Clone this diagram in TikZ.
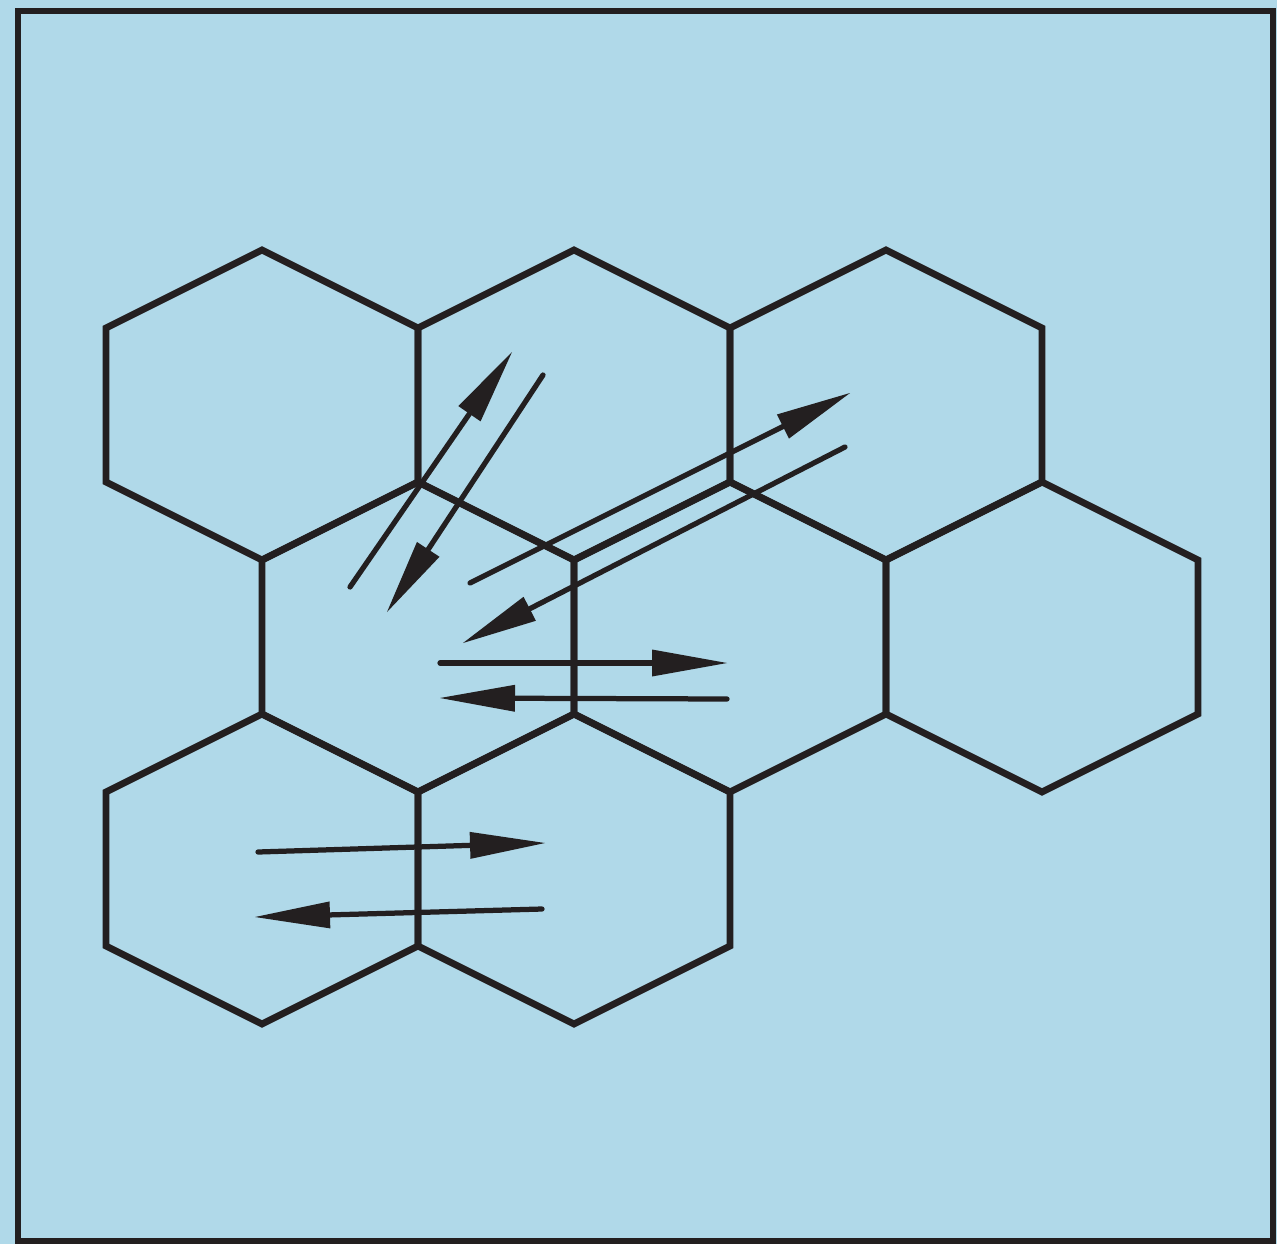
\documentclass[tikz,border=0pt]{standalone}
\usetikzlibrary{arrows.meta}
\definecolor{bgblue}{RGB}{176,217,233}
\definecolor{ink}{RGB}{35,31,32}

\begin{document}
\begin{tikzpicture}[x=0.02cm,y=-0.02cm,
    hexline/.style={draw=ink, line width=0.135cm},
    flow/.style={draw=ink, line width=0.105cm, line cap=round,
        -{Triangle[length=1.5cm,width=0.54cm,line width=0pt]}}]

    % 1. background and frame
    \fill[bgblue] (0,0) rectangle (1277,1244);
    \useasboundingbox (0,0) rectangle (1277,1244);
    \draw[ink, line width=0.12cm] (18,11) rectangle (1273,1241);

    % 2. hex cells (centres)
    \foreach \cx/\cy in {262/405,574/405,886/405,418/637,730/637,1042/637,262/869,574/869} {
        \draw[hexline] (\cx,\cy) ++(0,-155) -- ++(156,78) -- ++(0,154)
            -- ++(-156,78) -- ++(-156,-78) -- ++(0,-154) -- cycle;
    }

    % 3. arrow end points
    \coordinate (up1) at (350,587);
    \coordinate (up2) at (512,352);
    \coordinate (dn1) at (543,375);
    \coordinate (dn2) at (387,612);

    \coordinate (ur1) at (470,583);
    \coordinate (ur2) at (850,393);
    \coordinate (dl1) at (845,447);
    \coordinate (dl2) at (463,643);

    \coordinate (mr1) at (440,663);
    \coordinate (mr2) at (727,663);
    \coordinate (ml1) at (727,699);
    \coordinate (ml2) at (440,698);

    \coordinate (br1) at (258,852);
    \coordinate (br2) at (545,843);
    \coordinate (bl1) at (542,909);
    \coordinate (bl2) at (255,917);

    % 4. arrows
    \draw[flow] (up1) -- (up2);
    \draw[flow] (dn1) -- (dn2);
    \draw[flow] (ur1) -- (ur2);
    \draw[flow] (dl1) -- (dl2);
    \draw[flow] (mr1) -- (mr2);
    \draw[flow] (ml1) -- (ml2);
    \draw[flow] (br1) -- (br2);
    \draw[flow] (bl1) -- (bl2);

\end{tikzpicture}
\end{document}
